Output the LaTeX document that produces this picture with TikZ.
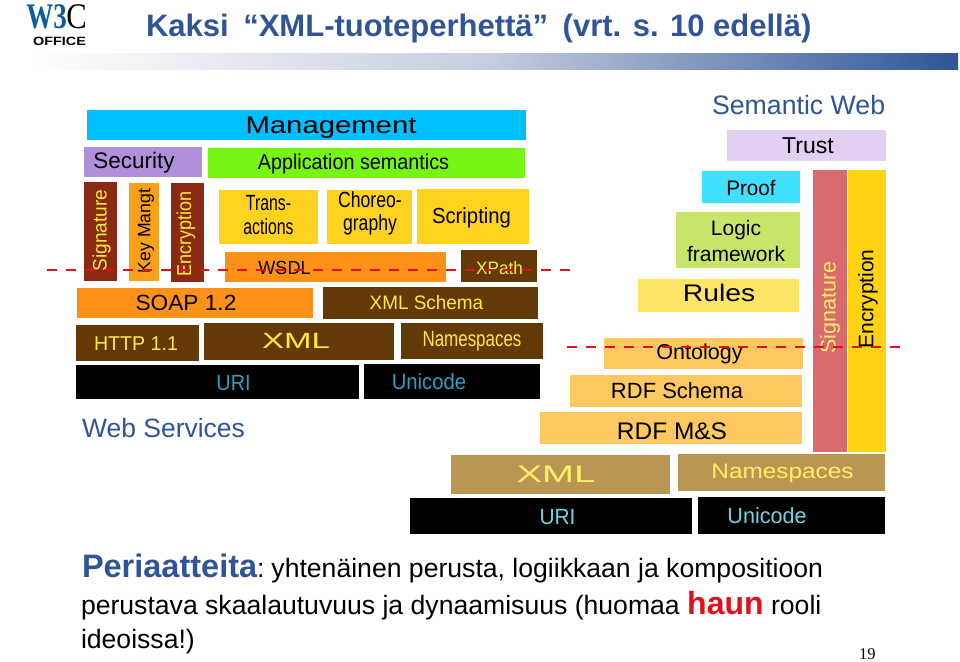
\documentclass[tikz,border=0pt]{standalone}
\usepackage{fontspec}
\usepackage{graphicx}
\setmainfont{Liberation Sans}
\newfontfamily\serifnum{Liberation Serif}
\definecolor{titleblue}{HTML}{2F5597}
\definecolor{mgmt}{HTML}{00BFFF}
\definecolor{secu}{HTML}{B090DB}
\definecolor{appsem}{HTML}{77F515}
\definecolor{brick}{HTML}{8B2A12}
\definecolor{keyor}{HTML}{F9A01A}
\definecolor{gold}{HTML}{FFD21F}
\definecolor{orng}{HTML}{FF9118}
\definecolor{dbrown}{HTML}{633A07}
\definecolor{ylw}{HTML}{FFEB3C}
\definecolor{cyan1}{HTML}{2E9FBF}
\definecolor{cyan2}{HTML}{6FD5E5}
\definecolor{trustc}{HTML}{E2D0F2}
\definecolor{proofc}{HTML}{40E0FF}
\definecolor{logicc}{HTML}{C8E56A}
\definecolor{rulesc}{HTML}{FFE566}
\definecolor{rdfc}{HTML}{FDC85F}
\definecolor{sigc}{HTML}{D96A6E}
\definecolor{encc}{HTML}{FFD312}
\definecolor{tan1}{HTML}{BA9652}
\definecolor{ylw2}{HTML}{FFF066}
\definecolor{redline}{HTML}{E0101E}
\tikzset{
  layerbox/.style={inner sep=0,outer sep=0,draw=none},
  lab/.style={inner sep=0,outer sep=0,align=center},
  txt/.style={inner sep=0,outer sep=0,anchor=base west},
  sepline/.style={redline,line width=2.2pt,dash pattern=on 10pt off 9pt}
}
\newcommand{\bx}[6]{%
  \pgfmathsetmacro\cxx{(#2+#4)/2}\pgfmathsetmacro\cyy{(#3+#5)/2}%
  \pgfmathsetmacro\wxx{#4-#2}\pgfmathsetmacro\hyy{#5-#3}%
  \node[layerbox,fill=#6,minimum width=\wxx pt,minimum height=\hyy pt] (#1) at (\cxx,\cyy) {};}
% name, cx, cy, size, xscale, rotate, colour, text
\newcommand{\lb}[8]{%
  \node[lab,text=#7,rotate=#6] (#1) at (#2,#3+1)
    {\scalebox{#5}[1]{\fontsize{#4pt}{#4pt}\selectfont\shortstack{#8}}};}
\begin{document}
\begin{tikzpicture}[x=1pt,y=-1pt]
\useasboundingbox (0,0) rectangle (960,661);
% header
\node[lab,text={rgb,255:red,13;green,92;blue,158}] (logow) at (46.5,17) {\scalebox{.75}[1]{\fontsize{36pt}{36pt}\selectfont\serifnum\bfseries W3}};
\node[lab,text=black] (logoc) at (76.5,17) {\scalebox{.85}[1]{\fontsize{36pt}{36pt}\selectfont\serifnum C}};
\node[lab,text=black] (logoo) at (59.5,41) {\scalebox{1.2}[1]{\fontsize{12pt}{12pt}\selectfont\bfseries OFFICE}};
\node[txt,text=titleblue] (title) at (146,37) {\fontsize{31pt}{31pt}\selectfont\bfseries Kaksi\hspace{6pt} “XML-tuoteperhettä”\hspace{6pt} (vrt. s. 10 edellä)};
\shade[left color=white,right color=titleblue,middle color={rgb,255:red,196;green,204;blue,222}] (30,54) rectangle (958,69);
\node[txt,text=titleblue] (semweb) at (712,114) {\fontsize{26.7pt}{26.7pt}\selectfont Semantic Web};
\node[txt,text=titleblue] (websvc) at (82,437) {\fontsize{26.5pt}{26.5pt}\selectfont Web Services};
% left stack
\bx{bMgmt}{87}{110}{526}{140}{mgmt}
\bx{bSec}{84}{147}{202}{177}{secu}
\bx{bApp}{208}{148}{525}{178}{appsem}
\bx{bSig}{84}{182}{117}{281}{brick}
\bx{bKey}{129}{183}{159}{281}{keyor}
\bx{bEnc}{171}{183}{204}{282}{brick}
\bx{bTrans}{219}{190}{318}{244}{gold}
\bx{bChor}{327}{190}{412}{244}{gold}
\bx{bScr}{417}{189}{529}{244}{gold}
\bx{bWsdl}{225}{252}{446}{282}{orng}
\bx{bXPath}{461}{250}{537}{282}{dbrown}
\bx{bSoap}{77}{288}{313}{318}{orng}
\bx{bSch}{323}{287}{538}{319}{dbrown}
\bx{bHttp}{76}{325}{199}{361}{dbrown}
\bx{bXml}{204}{323}{394}{360}{dbrown}
\bx{bNs}{401}{323}{543}{359}{dbrown}
\bx{bUri}{76}{365}{359}{399}{black}
\bx{bUni}{364}{364}{540}{399}{black}
\lb{lMgmt}{331}{127}{24}{1.22}{0}{black}{Management}
\lb{lSec}{134}{162}{22.5}{1}{0}{black}{Security}
\lb{lApp}{353.5}{162.5}{21.5}{.92}{0}{black}{Application semantics}
\lb{lSig}{101.5}{229.5}{19.5}{.98}{90}{ylw}{Signature}
\lb{lKey}{146}{230}{18}{.98}{90}{black}{Key Mangt}
\lb{lEnc}{186}{233}{20}{.9}{90}{ylw}{Encryption}
\lb{lTrans}{268.5}{214}{22}{.72}{0}{black}{Trans-\\[4pt]actions}
\lb{lChor}{370}{212}{22}{.8}{0}{black}{Choreo-\\[4pt]graphy}
\lb{lScr}{471.5}{216.5}{21.8}{.93}{0}{black}{Scripting}
\lb{lWsdl}{284.5}{267}{19}{.95}{0}{black}{WSDL}
\lb{lXPath}{499.5}{267}{18}{.95}{0}{ylw}{XPath}
\lb{lSoap}{186}{302}{22}{1.03}{0}{black}{SOAP 1.2}
\lb{lSch}{426.5}{302}{19.5}{.97}{0}{ylw}{XML Schema}
\lb{lHttp}{136}{342.5}{20}{.98}{0}{ylw}{HTTP 1.1}
\lb{lXml}{296}{340}{22}{1.5}{0}{ylw}{XML}
\lb{lNs}{472}{340}{22}{.77}{0}{ylw}{Namespaces}
\lb{lUri}{233.5}{382}{22}{.9}{0}{cyan1}{URI}
\lb{lUni}{429}{381}{22}{.92}{0}{cyan1}{Unicode}
% right stack
\bx{rTrust}{727}{130}{886}{161}{trustc}
\bx{rProof}{702}{171}{800}{203}{proofc}
\bx{rLogic}{676}{212}{800}{268}{logicc}
\bx{rRules}{638}{279}{799}{312}{rulesc}
\bx{rOnt}{604}{338}{803}{369}{rdfc}
\bx{rSig}{813}{170}{847}{452}{sigc}
\bx{rEnc}{848}{170}{886}{452}{encc}
\bx{rSch}{570}{375}{802}{407}{rdfc}
\bx{rMs}{540}{412}{802}{444}{rdfc}
\bx{rXml}{451}{455}{670}{494}{tan1}
\bx{rNs}{678}{454}{885}{491}{tan1}
\bx{rUri}{410}{498}{692}{534}{black}
\bx{rUni}{698}{497}{885}{534}{black}
\lb{tTrust}{808}{145}{23}{1}{0}{black}{Trust}
\lb{tProof}{751}{187}{21}{.98}{0}{black}{Proof}
\lb{tLogic}{736}{240}{21}{1}{0}{black}{Logic\\[4pt]framework}
\lb{tRules}{719}{292}{24}{1.18}{0}{black}{Rules}
\lb{tOnt}{699.5}{353}{21.5}{1}{0}{black}{Ontology}
\lb{tSig}{830}{306.5}{21.5}{1}{90}{ylw2}{Signature}
\lb{tEnc}{868}{298}{21}{1}{90}{black}{Encryption}
\lb{tSch}{677}{390}{22}{1}{0}{black}{RDF Schema}
\lb{tMs}{672}{430}{24}{1.02}{0}{black}{RDF M\&S}
\lb{tXml}{556}{473}{24}{1.6}{0}{ylw2}{XML}
\lb{tNs}{782.5}{472}{21}{1.16}{0}{ylw2}{Namespaces}
\lb{tUri}{557.5}{516}{22}{.95}{0}{cyan2}{URI}
\lb{tUni}{767}{515}{22}{.98}{0}{cyan2}{Unicode}
% separators
\coordinate (sepLa) at (47,270);
\coordinate (sepLb) at (575,270);
\coordinate (sepRa) at (567,347);
\coordinate (sepRb) at (903,347);
\draw[sepline] (sepLa) -- (sepLb);
\draw[sepline] (sepRa) -- (sepRb);
% body text
\node[txt] (body1) at (82,577) {\fontsize{26.6pt}{26.6pt}\selectfont{\fontsize{32.5pt}{32.5pt}\selectfont\bfseries\color{titleblue}Periaatteita}:\hspace{-3pt} yhtenäinen perusta, logiikkaan ja kompositioon};
\node[txt] (body2) at (81,614) {\fontsize{26.6pt}{26.6pt}\selectfont perustava skaalautuvuus ja dynaamisuus (huomaa {\fontsize{32pt}{32pt}\selectfont\bfseries\color{redline}haun} rooli};
\node[txt] (body3) at (81,648) {\fontsize{26.6pt}{26.6pt}\selectfont ideoissa!)};
\node[txt] (pagen) at (859,659) {\fontsize{16.5pt}{16.5pt}\selectfont\serifnum 19};
\end{tikzpicture}
\end{document}
